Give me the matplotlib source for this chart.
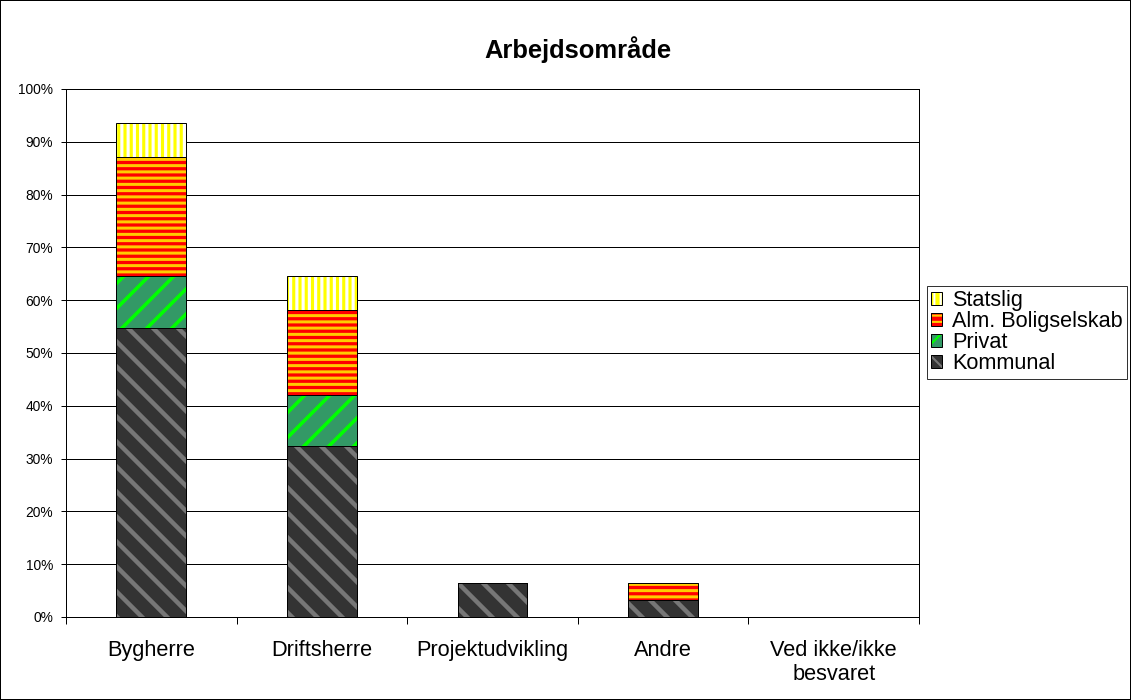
import numpy as np
import matplotlib as mpl
import matplotlib.pyplot as plt
from matplotlib.patches import Patch

plt.rcParams['font.family'] = ['Liberation Sans', 'DejaVu Sans']

categories = ["Bygherre", "Driftsherre", "Projektudvikling", "Andre", "Ved ikke/ikke\nbesvaret"]
kommunal = [54.8, 32.3, 6.45, 3.2, 0]
privat = [9.7, 9.7, 0, 0, 0]
alm = [22.6, 16.1, 0, 3.25, 0]
statslig = [6.45, 6.45, 0, 0, 0]

DPI = 75          # hatch spacing scales with dpi, 75 gives the right stripe density
P = 72 / DPI      # points per pixel

# name, values, face, stripe colour, hatch, stripe width (pt)
series = [
    ("Kommunal", kommunal, "#333333", "#777777", "\\", 4.3),
    ("Privat", privat, "#339966", "#00ff00", "/", 3.4),
    ("Alm. Boligselskab", alm, "#ff0000", "#ffcc00", "--", 2.9),
    ("Statslig", statslig, "#ffff00", "#ffffff", "||", 3.0),
]

fig = plt.figure(figsize=(1131 / DPI, 700 / DPI), dpi=DPI)
fig.patch.set_edgecolor("black")
fig.patch.set_linewidth(2 * P)
ax = fig.add_axes([66 / 1131, 83 / 700, 853 / 1131, 528 / 700])

x = np.arange(len(categories))
w = 0.41
bottom = np.zeros(len(categories))
handles = []
for name, vals, fc, hc, hatch, hlw in series:
    vals = np.array(vals)
    # hatch linewidth is picked up when the patch is made
    with mpl.rc_context({'hatch.linewidth': hlw}):
        ax.bar(x, vals, w, bottom=bottom, color=fc, edgecolor=hc,
               hatch=hatch, linewidth=0, zorder=3)
    ax.bar(x, vals, w, bottom=bottom, facecolor="none", edgecolor="black",
           linewidth=1 * P, zorder=4)
    h1 = Patch(facecolor=fc, edgecolor=hc, hatch=hatch, linewidth=0)
    h2 = Patch(facecolor="none", edgecolor="black", linewidth=1 * P)
    handles.append((h1, h2))
    bottom = bottom + vals

ax.set_xlim(-0.5, len(categories) - 0.5)
ax.set_ylim(0, 100)
ax.set_yticks(np.arange(0, 101, 10))
ax.set_yticklabels([f"{v}%" for v in range(0, 101, 10)], fontsize=13.2)
ax.yaxis.grid(True, color="black", linewidth=1 * P, zorder=0)
ax.set_axisbelow(True)
ax.set_xticks(x)
ax.set_xticklabels(categories, fontsize=20.9, linespacing=1.2)
ax.tick_params(axis="x", which="major", length=0, pad=23 * P)
ax.set_xticks(np.arange(-0.5, len(categories)), minor=True)
ax.tick_params(axis="x", which="minor", length=7 * P, width=1 * P, color="black")
ax.tick_params(axis="y", length=5 * P, width=1 * P, color="black", pad=8 * P)
for s in ax.spines.values():
    s.set_color("black")
    s.set_linewidth(1 * P)

fig.text(0.511, 1 - 58.3 / 700, "Arbejdsområde", ha="center", va="baseline",
         fontsize=24.5, fontweight="bold")

with mpl.rc_context({'hatch.linewidth': 2.0}):
    leg = fig.legend(handles[::-1], [s[0] for s in series][::-1],
                     loc="upper left", bbox_to_anchor=(927 / 1131, 1 - 286 / 700),
                     bbox_transform=fig.transFigure, fontsize=20.8,
                     frameon=True, fancybox=False, edgecolor="black",
                     handlelength=0.5, handleheight=0.5, handletextpad=0.45,
                     labelspacing=0.0, borderpad=0.2, borderaxespad=0)
leg.get_frame().set_linewidth(1 * P)

fig.savefig("out.png", dpi=DPI)
